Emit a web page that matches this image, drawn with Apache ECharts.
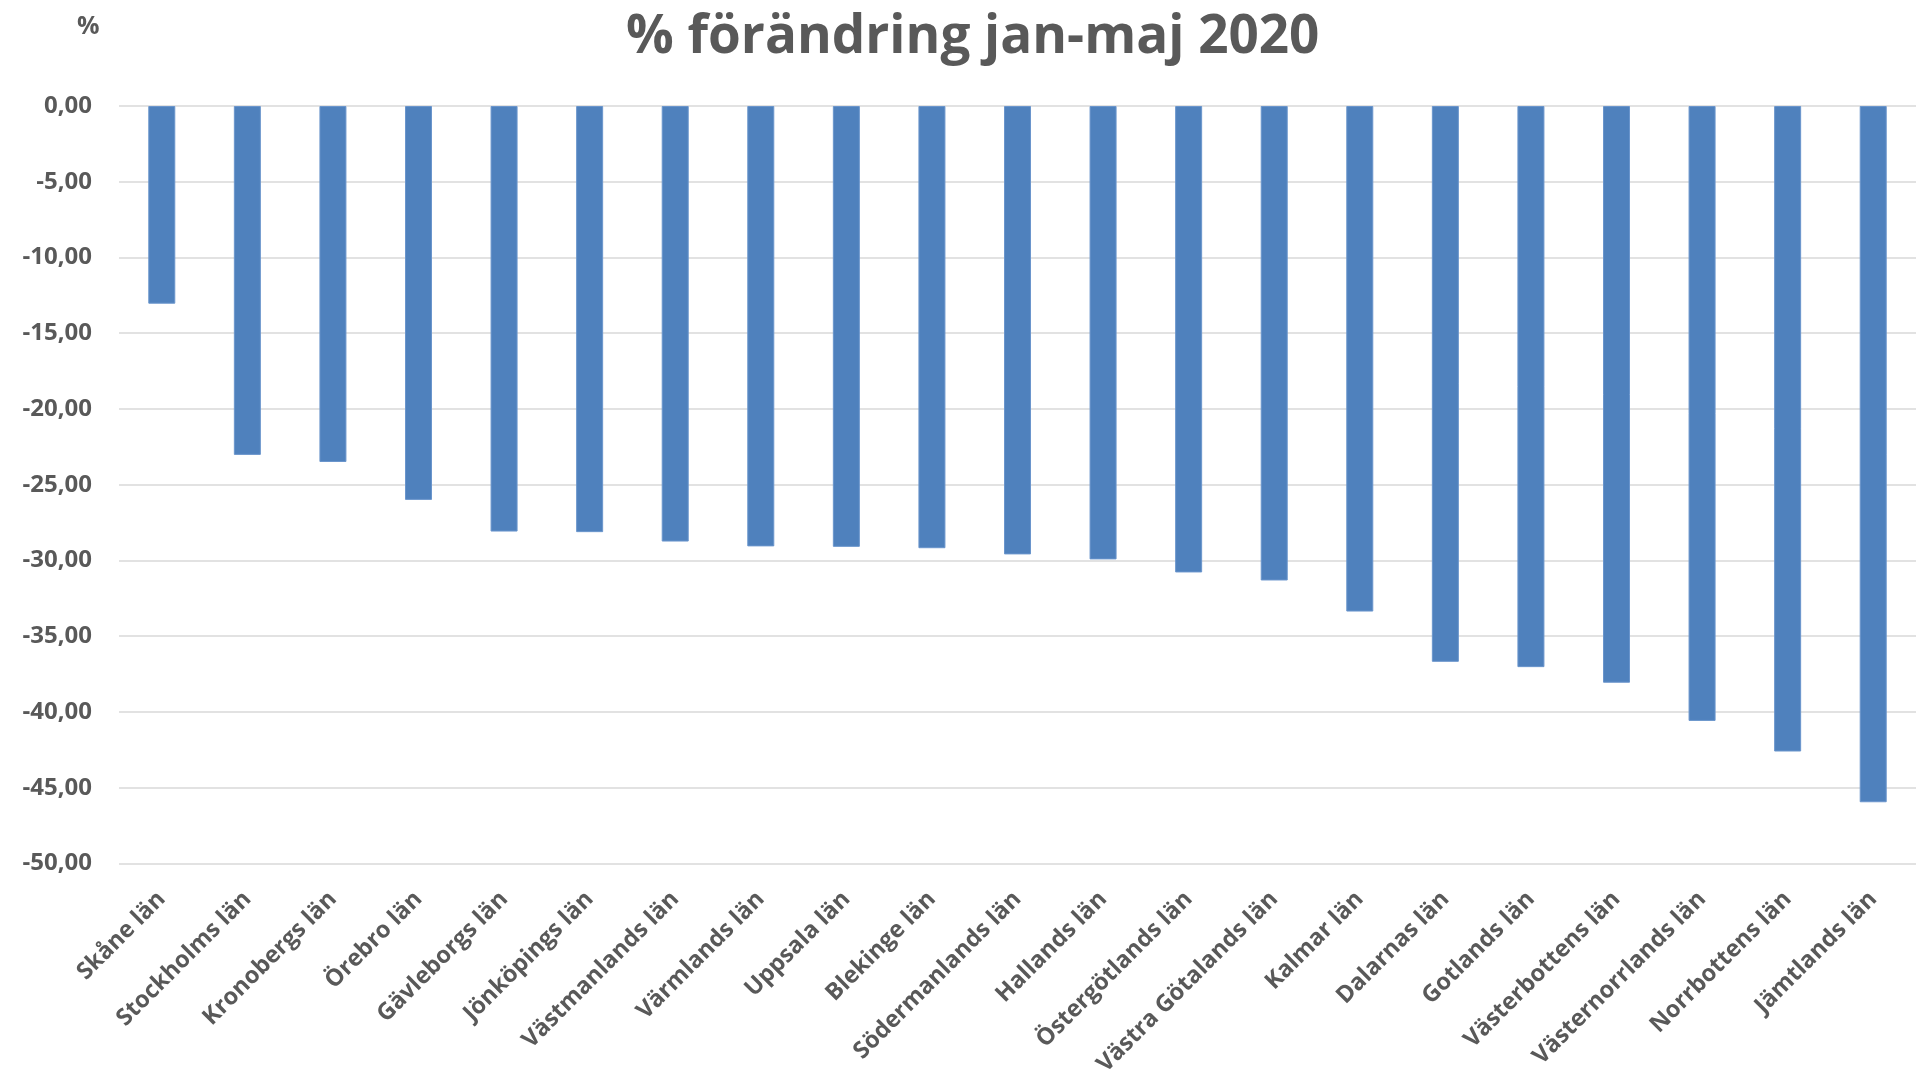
<!DOCTYPE html>
<html>
<head>
<meta charset="utf-8">
<script src="https://cdn.jsdelivr.net/npm/echarts@6/dist/echarts.min.js"></script>
<style>
html,body{margin:0;padding:0;background:#fff;}
#chart{width:1916px;height:1079px;}
</style>
</head>
<body>
<div id="chart"></div>
<script>
const titleText = '% förändring jan-maj 2020';
const unitLabel = '%';
const categories = ['Skåne län','Stockholms län','Kronobergs län','Örebro län','Gävleborgs län','Jönköpings län','Västmanlands län','Värmlands län','Uppsala län','Blekinge län','Södermanlands län','Hallands län','Östergötlands län','Västra Götalands län','Kalmar län','Dalarnas län','Gotlands län','Västerbottens län','Västernorrlands län','Norrbottens län','Jämtlands län'];
const values = [-13.05,-23.03,-23.5,-26.0,-28.09,-28.13,-28.75,-29.07,-29.1,-29.19,-29.6,-29.93,-30.79,-31.32,-33.37,-36.69,-37.04,-38.07,-40.59,-42.61,-45.96];
const yMin = -50, yMax = 0, yStep = 5;

const chart = echarts.init(document.getElementById('chart'));
const gray = '#595959';
chart.setOption({
  backgroundColor: '#ffffff',
  animation: false,
  title: [
    {text: titleText, left: 621, top: 6,
     textStyle: {fontFamily: 'Open Sans', fontWeight: 'bold', fontSize: 53, color: gray}},
    {text: unitLabel, left: 72, top: 9,
     textStyle: {fontFamily: 'Open Sans', fontWeight: 'bold', fontSize: 25, color: gray}}
  ],
  grid: {left: 119, right: 0, top: 106, bottom: 215, containLabel: false},
  xAxis: {
    type: 'category',
    data: categories,
    position: 'bottom',
    axisLine: {show: false, onZero: false},
    axisTick: {show: false},
    axisLabel: {interval: 0, rotate: 45, margin: 32, color: gray,
      fontFamily: 'Open Sans', fontWeight: 'bold', fontSize: 23.5}
  },
  yAxis: {
    type: 'value', min: yMin, max: yMax, interval: yStep,
    axisLine: {show: false}, axisTick: {show: false},
    splitLine: {lineStyle: {color: '#d9d9d9', width: 1.5}},
    axisLabel: {margin: 27, color: gray, fontFamily: 'Open Sans', fontWeight: 'bold', fontSize: 24,
      formatter: v => v.toFixed(2).replace('.', ',')}
  },
  series: [{
    type: 'bar',
    data: values,
    barWidth: 27,
    itemStyle: {color: '#4f81bd', borderColor: '#6a95cc', borderWidth: 1}
  }]
});
</script>
</body>
</html>
